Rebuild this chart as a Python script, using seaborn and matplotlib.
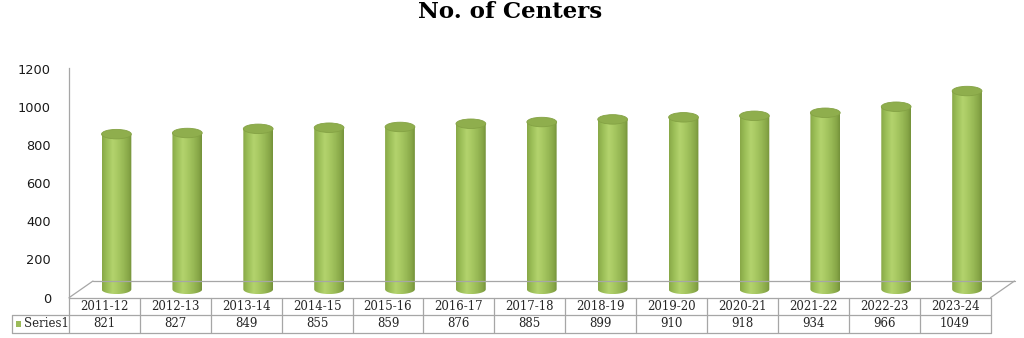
import numpy as np
import matplotlib
matplotlib.use("Agg")
import matplotlib.pyplot as plt
import seaborn as sns
from matplotlib.colors import LinearSegmentedColormap
from matplotlib.patches import Ellipse, PathPatch, Rectangle
from matplotlib.path import Path
from matplotlib.lines import Line2D

# ---------------- data ----------------
categories = ["2011-12", "2012-13", "2013-14", "2014-15", "2015-16", "2016-17", "2017-18",
              "2018-19", "2019-20", "2020-21", "2021-22", "2022-23", "2023-24"]
values = [821, 827, 849, 855, 859, 876, 885, 899, 910, 918, 934, 966, 1049]
series_name = "Series1"
y_ticks = [0, 200, 400, 600, 800, 1000, 1200]
title = "No. of Centers"

# ---------------- layout (pixels) ----------------
W, H, DPI = 1024, 338, 100
L, R = 69, 990.5          # front floor edge / table extents
FRONT, BACK = 297.7, 281  # floor front / back edges
DX = 24                   # depth offset
TOP_LBL = 68.5            # 1200 label level
BASE = 289.3              # bar base (middle depth)
SCALE = 0.189             # px per unit
ROW1, ROW2 = 315.0, 332.7
LEG_L = 12

sns.set_theme(style="white")
plt.rcParams["font.family"] = ["DejaVu Sans"]

fig = plt.figure(figsize=(W / DPI, H / DPI), dpi=DPI)
fig.patch.set_facecolor("white")

def fx(x):
    return x / W

def fy(y):
    return 1 - y / H

GRID = "#A6A6A6"
n = len(categories)
cw = (R - L) / n

# ---- label axis (y scale) ----
lab_ax = fig.add_axes([fx(L), fy(FRONT), (R - L) / W, (FRONT - TOP_LBL) / H])
lab_ax.set_facecolor("none")
lab_ax.set_ylim(0, 1200)
lab_ax.set_xlim(0, 1)
lab_ax.set_yticks(y_ticks)
lab_ax.set_yticklabels([str(t) for t in y_ticks], fontsize=9.3, color="#1a1a1a")
lab_ax.set_xticks([])
lab_ax.tick_params(axis="y", length=0, pad=13)
for s in ["top", "right", "bottom"]:
    lab_ax.spines[s].set_visible(False)
lab_ax.spines["left"].set_color(GRID)
lab_ax.spines["left"].set_linewidth(0.9)

# ---- floor ----
floor = [((L, FRONT), (R, FRONT)), ((L + DX, BACK), (R + DX, BACK)),
         ((L, FRONT), (L + DX, BACK)), ((R, FRONT), (R + DX, BACK))]
for (a, b) in floor:
    fig.add_artist(Line2D([fx(a[0]), fx(b[0])], [fy(a[1]), fy(b[1])],
                          color=GRID, lw=0.9, transform=fig.transFigure))

# ---- bars ----
ax = fig.add_axes([fx(L), fy(FRONT), (R - L) / W, (FRONT - TOP_LBL) / H])
ax.set_facecolor("none")
df = {"cat": categories, "val": values}
sns.barplot(x="cat", y="val", data=df, color="#9BBB59", width=0.42, ax=ax,
            saturation=1, zorder=2)
shift = (DX / 2) / cw
ylo = -(FRONT - BASE) / SCALE
yhi = (BASE - TOP_LBL) / SCALE
eh = 9.5 / SCALE

cmap = LinearSegmentedColormap.from_list(
    "cyl", [(0.0, "#87A747"), (0.15, "#9ABD56"), (0.36, "#B3D36D"), (0.5, "#AACB64"),
            (0.72, "#98B955"), (0.9, "#86A546"), (1.0, "#74913A")])
grad = np.linspace(0, 1, 256).reshape(1, -1)

for p in list(ax.patches):
    x0, w, v = p.get_x(), p.get_width(), p.get_height()
    xc = x0 + w / 2
    p.set_visible(False)
    t = np.linspace(np.pi, 2 * np.pi, 60)
    verts = [(x0, v)] + list(zip(xc + w / 2 * np.cos(t), eh / 2 * np.sin(t))) + [(x0 + w, v), (x0, v)]
    codes = [Path.MOVETO] + [Path.LINETO] * (len(verts) - 2) + [Path.CLOSEPOLY]
    clip = PathPatch(Path(verts, codes), transform=ax.transData)
    im = ax.imshow(grad, cmap=cmap, extent=(x0, x0 + w, -eh / 2, v), aspect="auto",
                   zorder=3, interpolation="bilinear")
    im.set_clip_path(clip)
    ax.add_patch(Ellipse((xc, v), w, eh, facecolor="#8FAE4D", edgecolor="#84A244",
                         lw=0.6, zorder=4))

ax.set_xlim(-0.5 - shift, n - 0.5 - shift)
ax.set_ylim(ylo, yhi)
ax.axis("off")

# ---- title ----
fig.text(fx(510), fy(12), title, ha="center", va="center", fontsize=16.5,
         fontweight="bold", family="DejaVu Serif", color="black")

# ---- data table ----
tab = fig.add_axes([fx(L), fy(ROW2), (R - L) / W, (ROW2 - FRONT) / H])
tab.set_facecolor("none")
tab.set_xlim(-0.5, n - 0.5)
tab.set_ylim(0, 2)
tab.axis("off")
for i in range(n + 1):
    tab.plot([i - 0.5, i - 0.5], [0, 2], color=GRID, lw=0.9, clip_on=False)
leg_x = -0.5 - (L - LEG_L) / cw
tab.plot([leg_x, n - 0.5], [0, 0], color=GRID, lw=0.9, clip_on=False)
tab.plot([leg_x, n - 0.5], [1, 1], color=GRID, lw=0.9, clip_on=False)
tab.plot([leg_x, leg_x], [0, 1], color=GRID, lw=0.9, clip_on=False)
for i, (c, v) in enumerate(zip(categories, values)):
    tab.text(i, 1.5, c, ha="center", va="center", fontsize=8.5, family="DejaVu Serif",
             color="#262626")
    tab.text(i, 0.5, str(v), ha="center", va="center", fontsize=8.5, family="DejaVu Serif",
             color="#262626")
tab.add_patch(Rectangle((leg_x + 3.5 / cw, 0.5 - 0.17), 6.0 / cw, 0.34, facecolor="#9BBB59",
                        edgecolor="none", clip_on=False))
tab.text(leg_x + 12.5 / cw, 0.5, series_name, ha="left", va="center", fontsize=8.5,
         family="DejaVu Serif", color="#262626")

fig.savefig("out.png", dpi=DPI, facecolor="white")
